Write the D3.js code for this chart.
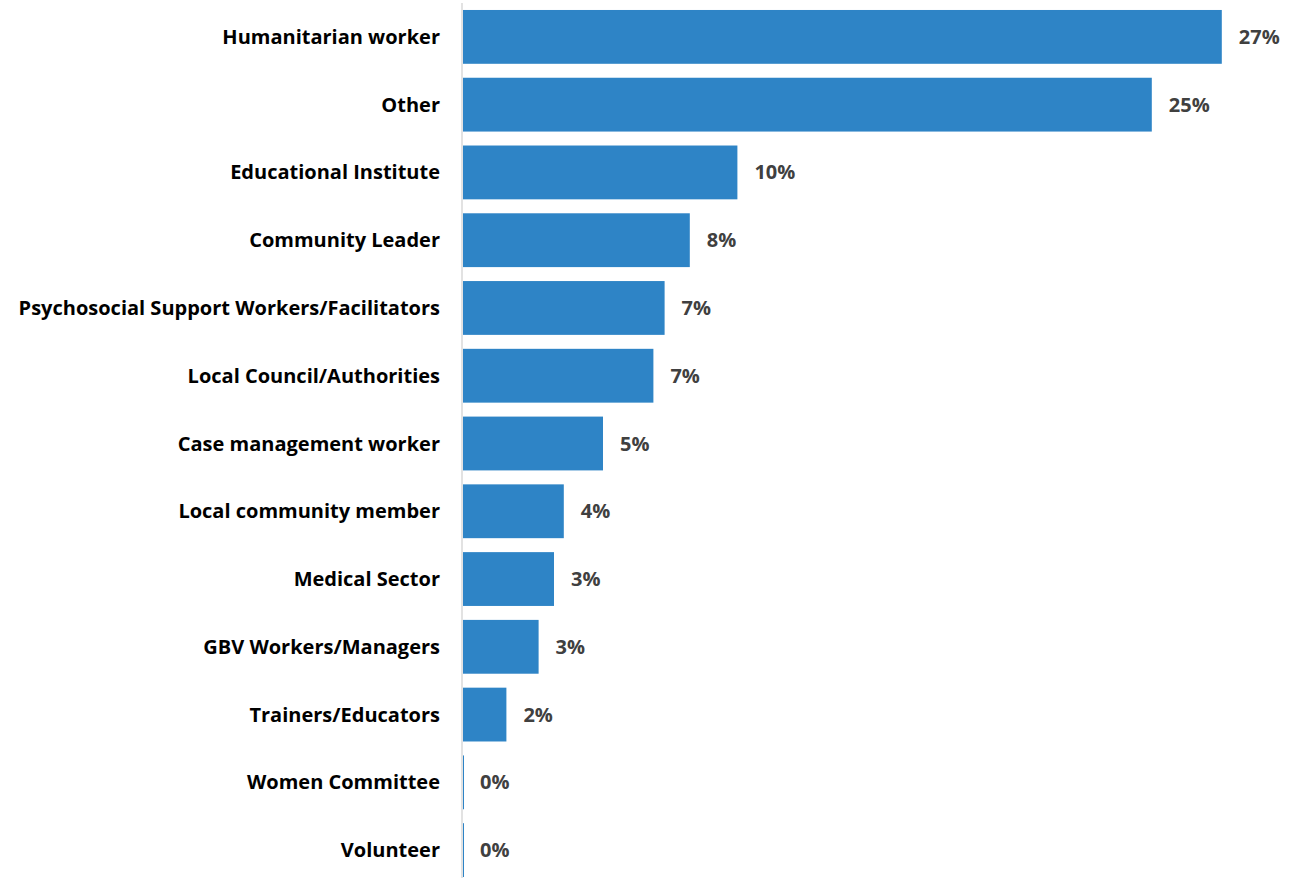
<!DOCTYPE html>
<html>
<head>
<meta charset="utf-8">
<script src="https://cdn.jsdelivr.net/npm/d3@7"></script>
<style>
  body { margin: 0; background: #fff; }
  svg { display: block; }
  .cat { font-family: "Open Sans", sans-serif; font-weight: 700; font-size: 20px; fill: #000; }
  .val { font-family: "Open Sans", sans-serif; font-weight: 700; font-size: 20px; fill: #404040; }
</style>
</head>
<body>
<div id="chart"></div>
<script>
// Data
const categories = [
    'Humanitarian worker',
    'Other',
    'Educational Institute',
    'Community Leader',
    'Psychosocial Support Workers/Facilitators',
    'Local Council/Authorities',
    'Case management worker',
    'Local community member',
    'Medical Sector',
    'GBV Workers/Managers',
    'Trainers/Educators',
    'Women Committee',
    'Volunteer'
]
const values = [27.1, 24.6, 9.8, 8.1, 7.2, 6.8, 5.0, 3.6, 3.25, 2.7, 1.55, 0, 0]

// SVG Node
const width = 1306
const height = 878
const svg = d3.select('#chart').append('svg')
    .attr('width', width)
    .attr('height', height)

// Presentation
const margin = { top: 3, right: 0, bottom: -6, left: 463 }

// Scale
const x = d3.scaleLinear()
    .domain([0, 1])
    .range([margin.left, margin.left + 28])
const y = d3.scaleBand()
    .domain(categories)
    .range([margin.top, height - margin.bottom])
    .paddingInner(14 / 68)
    .paddingOuter(7 / 68)

// Bars
svg.selectAll('rect.bar')
    .data(categories)
    .enter()
    .append('rect')
    .attr('class', 'bar')
    .attr('x', x(0))
    .attr('y', d => y(d))
    .attr('width', (d, i) => Math.max(1, x(values[i]) - x(0)))
    .attr('height', y.bandwidth())
    .attr('fill', '#2e84c6')

// Axis line
svg.append('line')
    .attr('x1', x(0) - 1)
    .attr('x2', x(0) - 1)
    .attr('y1', margin.top)
    .attr('y2', height)
    .attr('stroke', '#d9d9d9')
    .attr('stroke-width', 1.5)

// Category labels
svg.selectAll('text.cat')
    .data(categories)
    .enter()
    .append('text')
    .attr('class', 'cat')
    .attr('x', x(0) - 23)
    .attr('y', d => y(d) + y.bandwidth() / 2)
    .attr('dy', '0.35em')
    .attr('text-anchor', 'end')
    .text(d => d)

// Value labels
svg.selectAll('text.val')
    .data(categories)
    .enter()
    .append('text')
    .attr('class', 'val')
    .attr('x', (d, i) => x(values[i]) + 17)
    .attr('y', d => y(d) + y.bandwidth() / 2)
    .attr('dy', '0.35em')
    .text((d, i) => `${Math.round(values[i])}%`)
</script>
</body>
</html>
